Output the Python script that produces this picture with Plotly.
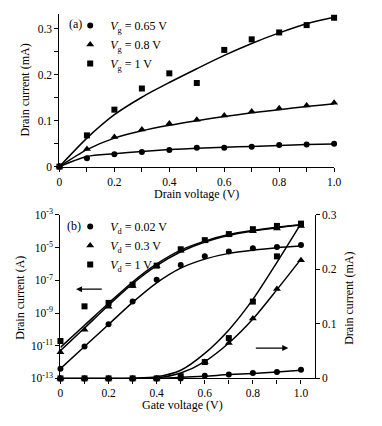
import plotly.graph_objects as go

W, H = 382, 426
FONT = "Liberation Serif"


def px(x):
    return x / W


def py(y):
    return 1 - y / H


# ---------------- Panel (a): output characteristics ----------------
vd = [0, 0.1, 0.2, 0.3, 0.4, 0.5, 0.6, 0.7, 0.8, 0.9, 1.0]
id_vg065 = [0, 0.018, 0.027, 0.032, 0.036, 0.041, 0.041, 0.043, 0.047, 0.048, 0.050]
id_vg08 = [0, 0.0385, 0.0645, 0.081, 0.094, 0.102, 0.111, 0.120, 0.127, 0.133, 0.139]
id_vg1 = [0, 0.068, 0.124, 0.170, 0.203, 0.182, 0.254, 0.277, 0.292, 0.308, 0.324]

fit_vg065 = [0, 0.022, 0.028, 0.033, 0.037, 0.040, 0.042, 0.044, 0.046, 0.048, 0.049]
fit_vg08 = [0, 0.037, 0.062, 0.078, 0.090, 0.100, 0.109, 0.117, 0.124, 0.131, 0.137]
fit_vg1 = [0, 0.062, 0.113, 0.151, 0.183, 0.213, 0.242, 0.268, 0.291, 0.311, 0.325]

# ---------------- Panel (b): transfer characteristics ----------------
vg = [0, 0.1, 0.2, 0.3, 0.4, 0.5, 0.6, 0.7, 0.8, 0.9, 1.0]
# log10 of drain current (A)
logid_vd002 = [-12.41, -11.04, -9.68, -8.30, -6.97, -6.06, -5.53, -5.23, -5.04, -4.96, -4.84]
logid_vd03 = [-11.40, -10.02, -8.61, -7.35, -6.14, -5.19, -4.60, -4.21, -3.99, -3.83, -3.67]
logid_vd1 = [-10.71, -8.59, -8.38, -7.27, -6.10, -5.10, -4.54, -4.17, -3.87, -3.67, -3.53]
logfit_vd002 = [-12.4, -11.05, -9.7, -8.35, -7.15, -6.25, -5.7, -5.35, -5.15, -5.0, -4.9]
logfit_vd03 = [-11.3, -9.92, -8.52, -7.2, -6.1, -5.25, -4.65, -4.25, -3.98, -3.78, -3.62]
logfit_vd1 = [-11.1, -9.75, -8.4, -7.1, -6.0, -5.15, -4.6, -4.2, -3.95, -3.75, -3.6]

# linear drain current (mA)
lin_vd002 = [0, 0, 0, 0, 0, 0.0, 0.005, 0.007, 0.010, 0.012, 0.016]
lin_vd03 = [0, 0, 0, 0, 0, 0.002, 0.030, 0.065, 0.110, 0.164, 0.217]
lin_vd1 = [0, 0, 0, 0, 0, 0.004, 0.030, 0.074, 0.141, 0.224, 0.283]
linfit_vd002 = [0, 0, 0, 0, 0, 0.002, 0.004, 0.007, 0.009, 0.012, 0.015]
linfit_vd03 = [0, 0, 0, 0, 0.001, 0.010, 0.031, 0.065, 0.109, 0.163, 0.219]
linfit_vd1 = [0, 0, 0, 0.0005, 0.003, 0.015, 0.046, 0.089, 0.145, 0.213, 0.284]

log_ticks = [-13, -11, -9, -7, -5, -3]

names_a = ["<i>V</i><sub>g</sub> = 0.65 V", "<i>V</i><sub>g</sub> = 0.8 V", "<i>V</i><sub>g</sub> = 1 V"]
names_b = ["<i>V</i><sub>d</sub> = 0.02 V", "<i>V</i><sub>d</sub> = 0.3 V", "<i>V</i><sub>d</sub> = 1 V"]
symbols = ["circle", "triangle-up", "square"]
msizes = [6, 7, 6]

fig = go.Figure()
LINE = dict(color="black", width=1.5, shape="spline", smoothing=0.8)

# Panel (a) fits
for f in [fit_vg065, fit_vg08, fit_vg1]:
    fig.add_trace(go.Scatter(x=vd, y=f, mode="lines", line=LINE, showlegend=False,
                             xaxis="x", yaxis="y", hoverinfo="skip"))
for d, n, s, ms in zip([id_vg065, id_vg08, id_vg1], names_a, symbols, msizes):
    fig.add_trace(go.Scatter(x=vd, y=d, mode="markers", name=n,
                             marker=dict(symbol=s, size=ms, color="black"),
                             xaxis="x", yaxis="y", legend="legend", cliponaxis=False))

# Panel (b) log fits and data
for f in [logfit_vd002, logfit_vd03, logfit_vd1]:
    fig.add_trace(go.Scatter(x=vg, y=[10 ** v for v in f], mode="lines", line=LINE,
                             showlegend=False, xaxis="x2", yaxis="y2", hoverinfo="skip"))
for f in [linfit_vd002, linfit_vd03, linfit_vd1]:
    fig.add_trace(go.Scatter(x=vg, y=f, mode="lines", line=LINE,
                             showlegend=False, xaxis="x2", yaxis="y3", hoverinfo="skip"))
for d, n, s, ms in zip([logid_vd002, logid_vd03, logid_vd1], names_b, symbols, msizes):
    fig.add_trace(go.Scatter(x=vg, y=[10 ** v for v in d], mode="markers", name=n,
                             marker=dict(symbol=s, size=ms, color="black"),
                             xaxis="x2", yaxis="y2", legend="legend2", cliponaxis=False))
for d, s, ms in zip([lin_vd002, lin_vd03, lin_vd1], symbols, msizes):
    fig.add_trace(go.Scatter(x=vg, y=d, mode="markers", showlegend=False,
                             marker=dict(symbol=s, size=ms, color="black"),
                             xaxis="x2", yaxis="y3", cliponaxis=False))

TF = dict(family=FONT, size=11.5, color="black")
AX = dict(showline=True, linecolor="black", linewidth=1.2, ticks="outside", ticklen=4,
          tickwidth=1.2, tickcolor="black", showgrid=False, zeroline=False, tickfont=TF)

xt = [i / 10 for i in range(11)]
xtt = ["0" if i == 0 else (f"{i/10:.1f}" if i % 2 == 0 else "") for i in range(11)]
yt_a = [i * 0.05 for i in range(7)]
ytt_a = ["0", "", "0.1", "", "0.2", "", "0.3"]

fig.update_layout(
    width=W, height=H, margin=dict(l=0, r=0, t=0, b=0),
    paper_bgcolor="white", plot_bgcolor="white",
    font=dict(family=FONT, color="black"),
    xaxis=dict(AX, domain=[px(58), px(340)], range=[0, 1.0], tickvals=xt, ticktext=xtt,
               anchor="y"),
    yaxis=dict(AX, domain=[py(164), py(6)], range=[0, 0.3326], tickvals=yt_a, ticktext=ytt_a,
               anchor="x"),
    xaxis2=dict(AX, domain=[px(59), px(320)], range=[0, 1.0567], tickvals=xt, ticktext=xtt,
                anchor="y2"),
    yaxis2=dict(AX, domain=[py(383), py(214)], type="log", range=[-13, -3],
                tickvals=[10 ** t for t in log_ticks],
                ticktext=[f"10<sup>{t}</sup>" for t in log_ticks], anchor="x2"),
    yaxis3=dict(AX, overlaying="y2", side="right", anchor="x2", range=[0, 0.3],
                tickvals=[0, 0.1, 0.2, 0.3], ticktext=["0", "0.1", "0.2", "0.3"]),
    legend=dict(x=px(69), y=py(3), xanchor="left", yanchor="top",
                font=dict(family=FONT, size=12, color="black"),
                bgcolor="rgba(0,0,0,0)", borderwidth=0, itemwidth=30, tracegroupgap=0),
    legend2=dict(x=px(69), y=py(211), xanchor="left", yanchor="top",
                 font=dict(family=FONT, size=12, color="black"),
                 bgcolor="rgba(0,0,0,0)", borderwidth=0, itemwidth=30, tracegroupgap=0),
    showlegend=True,
)

TT = dict(family=FONT, size=12, color="black")
C = dict(xref="paper", yref="paper", showarrow=False, font=TT, xanchor="center", yanchor="middle")
ann = [
    dict(C, text="(a)", x=px(74), y=py(17)),
    dict(C, text="(b)", x=px(73), y=py(225)),
    dict(C, text="Drain voltage (V)", x=px(199), y=py(192)),
    dict(C, text="Gate voltage (V)", x=px(184), y=py(410)),
    dict(C, text="Drain current (mA)", x=px(23), y=py(85), textangle=-90),
    dict(C, text="Drain current (A)", x=px(18), y=py(300), textangle=-90),
    dict(C, text="Drain current (mA)", x=px(355), y=py(300), textangle=-90),
    # arrows indicating which axis
    dict(text="", x=0.065, y=-7.54, ax=0.178, ay=-7.54, xref="x2", yref="y2",
         axref="x2", ayref="y2", showarrow=True, arrowhead=2, arrowsize=1, arrowwidth=1.2,
         arrowcolor="black"),
    dict(text="", x=0.947, y=0.0556, ax=0.806, ay=0.0556, xref="x2", yref="y3",
         axref="x2", ayref="y3", showarrow=True, arrowhead=2, arrowsize=1, arrowwidth=1.2,
         arrowcolor="black"),
]
fig.update_layout(annotations=ann)

fig.write_html(
    "out.html",
    config={"displayModeBar": False},
    post_script="document.body.style.margin='0';document.body.style.overflow='hidden';",
)
